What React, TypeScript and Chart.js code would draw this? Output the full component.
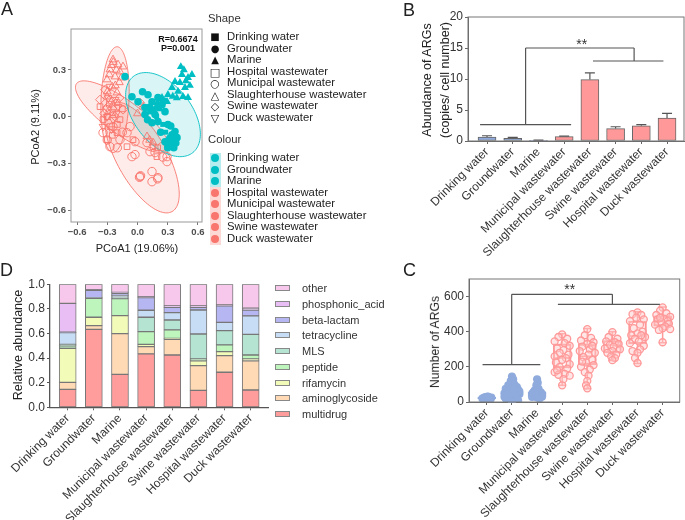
import React, { useEffect, useRef } from "react";
import { Chart, registerables } from "chart.js";

Chart.register(...registerables);

const FONT = "'Liberation Sans', Arial, Helvetica, sans-serif";
const RED = "#F8766D";
const CYAN = "#00BFC4";
const BLUE = "rgb(143,170,220)";
const PINK = "rgb(255,153,153)";

// ---------------- shared categories (B, C, D)
const sites = [
  "Drinking water",
  "Groundwater",
  "Marine",
  "Municipal wastewater",
  "Slaughterhouse wastewater",
  "Swine wastewater",
  "Hospital wastewater",
  "Duck wastewater",
];

// ---------------- Panel A : PCoA
const pcoaTicks = [-0.6, -0.3, 0, 0.3, 0.6];
const pcoaLegend = [
  "Drinking water",
  "Groundwater",
  "Marine",
  "Hospital wastewater",
  "Municipal wastewater",
  "Slaughterhouse wastewater",
  "Swine wastewater",
  "Duck wastewater",
];
const pcoaR = "R=0.6674";
const pcoaP = "P=0.001";

const drinkingPts = [[0.19, 0.0], [0.25, -0.05], [0.28, -0.1], [0.12, 0.03], [0.22, 0.05]];
const groundPts = [
  [-0.124, 0.257], [0.104, 0.141], [-0.055, 0.128], [0.074, 0.058], [0.174, 0.013], [0.203, -0.032],
  [0.302, -0.051], [0.342, -0.116], [0.352, -0.161], [0.302, -0.18], [0.243, 0.077], [0.203, 0.122],
  [0.144, 0.096], [0.273, 0.032], [0.005, 0.096], [0.074, 0.013], [0.144, -0.039], [0.372, -0.096],
  [0.392, -0.135], [0.273, -0.161], [0.32, -0.14], [0.36, -0.2], [0.23, -0.1], [0.12, 0.06],
  [0.05, 0.16], [0.2, 0.06], [0.26, 0.1], [0.33, -0.06], [0.1, -0.02], [0.3, -0.2], [0.38, -0.17],
];
const marinePts = [
  [0.372, 0.225], [0.441, 0.27], [0.501, 0.25], [0.471, 0.186], [0.402, 0.161], [0.501, 0.122],
  [0.342, 0.186], [0.302, 0.141], [0.243, 0.122], [0.293, 0.096], [0.451, 0.128], [0.54, 0.27],
  [0.421, 0.218], [0.46, 0.3], [0.52, 0.2], [0.39, 0.12], [0.48, 0.23], [0.35, 0.13], [0.43, 0.32],
  [0.2, 0.09], [0.16, 0.04],
];
const hospitalPts = [
  [-0.273, -0.064], [-0.203, -0.103], [-0.342, -0.019], [-0.174, -0.019], [-0.243, 0.026], [-0.045, -0.148],
  [-0.104, -0.193], [-0.302, -0.148], [-0.372, 0.064], [-0.203, 0.09], [0.154, -0.193], [0.193, -0.257],
  [-0.25, -0.12], [-0.3, 0.0], [-0.2, -0.05], [-0.15, 0.05], [0.2, -0.2], [-0.28, 0.08],
];
const municipalPts = [
  [-0.055, -0.257], [0.025, -0.385], [0.144, -0.353], [0.144, -0.418], [0.203, -0.392], [0.124, -0.225],
  [0.174, -0.231], [0.293, -0.289], [0.293, -0.257], [0.243, -0.193], [-0.025, -0.161], [0.094, -0.167],
  [-0.025, -0.244], [-0.302, 0.045], [-0.243, -0.064], [-0.342, -0.103], [-0.174, -0.148], [-0.273, -0.193],
  [-0.104, -0.103], [-0.074, -0.064], [0.03, -0.38], [0.02, -0.39], [0.2, -0.4], [0.25, -0.26],
  [-0.2, -0.2], [-0.3, -0.15], [-0.15, -0.1],
];
const slaughterPts = [
  [-0.243, 0.366], [-0.193, 0.334], [-0.273, 0.302], [-0.174, 0.289], [-0.223, 0.257], [-0.302, 0.238],
  [-0.144, 0.321], [-0.253, 0.193], [-0.203, 0.154], [-0.302, 0.128], [0.055, 0.064], [0.094, -0.128],
  [0.154, -0.167], [-0.26, 0.33], [-0.21, 0.3], [-0.28, 0.27], [-0.18, 0.22], [-0.24, 0.35],
  [-0.22, 0.2], [-0.3, 0.16], [-0.16, 0.25], [0.0, 0.02], [0.12, -0.15],
];
const swinePts = [
  [-0.372, 0.109], [-0.273, 0.109], [-0.223, 0], [-0.322, 0.173], [-0.144, 0.045], [0.025, 0.09],
  [-0.25, 0.05], [-0.3, 0.06], [-0.18, 0.12], [-0.33, 0.02],
];
const duckPts = [
  [-0.302, 0], [-0.243, -0.019], [-0.193, 0.064], [-0.342, -0.064], [-0.223, 0.109], [-0.273, 0.193],
  [-0.26, -0.08], [-0.21, 0.02], [-0.29, 0.12],
];

// confidence ellipses: centre and two conjugate semi-axes (data units)
const ellipseCenters = [[-0.223, 0.109], [-0.154, 0.0], [0.045, -0.263], [0.253, 0.013]];
const ellipseAxisA = [[0.02, 0.34], [0.451, -0.212], [0.298, -0.347], [0.307, -0.238]];
const ellipseAxisB = [[0.139, 0], [0.099, 0.089], [0.218, 0.077], [0.208, 0.128]];
const ellipseIsNatural = [false, false, false, true];

// ---------------- Panel B : abundance
const abundance = [0.65, 0.45, 0.1, 0.7, 9.9, 2.0, 2.45, 3.7];
const abundanceErr = [0.2, 0.15, 0.05, 0.1, 1.1, 0.3, 0.2, 0.75];
const abundanceTicks = [0, 5, 10, 15, 20];
const bracketB = [
  [-0.27, 2.65, 3.27, 2.65],
  [1.5, 2.65, 1.5, 15],
  [1.5, 15, 5.72, 15],
  [5.72, 15, 5.72, 12.9],
  [4.12, 12.9, 6.86, 12.9],
];
const starB = [3.68, 15.5];

// ---------------- Panel C : number of ARGs
const argTicks = [0, 200, 400, 600];
const argMin = [12, 0, 20, 95, 76, 236, 219, 337];
const argQ1 = [18, 25, 30, 194, 213, 280, 331, 432];
const argMedian = [22, 48, 45, 251, 261, 324, 375, 461];
const argQ3 = [28, 75, 58, 331, 331, 350, 461, 490];
const argMax = [35, 147, 133, 389, 419, 400, 514, 541];
const drinkingArgs = [[-0.15, 22], [-0.1, 25], [-0.05, 28], [0.05, 24], [0.1, 20], [0.15, 18], [0.18, 26], [-0.12, 15], [0, 20], [0.06, 30], [0.12, 12], [-0.18, 20], [0.03, 32]];
const groundArgs = [[0, 145], [0.05, 130], [-0.05, 120], [0.1, 100], [-0.15, 95], [0.2, 85], [-0.25, 75], [0.25, 70], [-0.1, 65], [0.15, 60], [0, 55], [-0.3, 50], [0.3, 45], [-0.2, 40], [0.1, 35], [-0.05, 30], [0.2, 25], [-0.25, 20], [0.05, 15], [-0.15, 10], [0.25, 8], [0, 5], [0.3, 60], [-0.3, 30], [0.12, 45], [-0.12, 48], [0, 80], [0.05, 70]];
const marineArgs = [[0, 130], [0.03, 110], [-0.03, 95], [0.06, 75], [-0.1, 65], [0.15, 55], [-0.18, 50], [0.2, 45], [-0.1, 40], [0.12, 35], [0.2, 30], [-0.2, 28], [0, 25], [-0.15, 55], [0.05, 45], [0.1, 20], [0, 60], [-0.05, 40]];
const municipalArgs = [[0, 385], [-0.15, 370], [0.2, 360], [-0.3, 345], [0.1, 335], [0.3, 320], [-0.2, 305], [0.05, 295], [-0.1, 280], [0.25, 270], [-0.3, 260], [0.15, 250], [0, 240], [-0.25, 225], [0.3, 215], [-0.1, 200], [0.2, 190], [-0.3, 170], [0.1, 160], [-0.15, 155], [0.3, 150], [0.05, 130], [0, 95], [-0.2, 180]];
const slaughterArgs = [[0, 415], [-0.1, 380], [0.15, 365], [-0.25, 350], [0.25, 340], [0, 330], [-0.2, 315], [0.1, 300], [-0.3, 290], [0.3, 280], [0.05, 270], [-0.15, 255], [0.2, 240], [-0.05, 225], [0.25, 210], [-0.25, 200], [0.1, 185], [-0.1, 170], [0.05, 150], [0, 120], [-0.05, 95], [0, 78], [0.2, 320], [-0.2, 230]];
const swineArgs = [[0, 398], [-0.15, 370], [0.2, 360], [-0.25, 345], [0.1, 340], [0.25, 330], [-0.1, 325], [0.05, 315], [-0.3, 305], [0.3, 300], [0, 290], [-0.2, 280], [0.15, 270], [-0.05, 260], [0.1, 250], [0, 238]];
const hospitalArgs = [[0, 510], [-0.2, 500], [0.15, 495], [-0.05, 480], [0.25, 470], [-0.3, 460], [0.1, 440], [-0.15, 420], [0.2, 400], [0, 390], [-0.25, 380], [0.3, 370], [-0.1, 360], [0.05, 345], [-0.3, 335], [0.25, 320], [0.1, 300], [-0.2, 290], [0, 280], [-0.1, 250], [0, 222], [0.15, 380]];
const duckArgs = [[0, 538], [-0.1, 520], [0.15, 505], [-0.25, 495], [0.3, 485], [0.05, 475], [-0.2, 470], [0.2, 460], [-0.05, 455], [0.25, 445], [-0.3, 440], [0.1, 430], [0, 420], [0.3, 415], [-0.15, 410], [0, 340], [-0.1, 480]];
const argPoints = [drinkingArgs, groundArgs, marineArgs, municipalArgs, slaughterArgs, swineArgs, hospitalArgs, duckArgs];
const bracketC = [
  [-0.17, 213, 2.13, 213],
  [0.99, 213, 0.99, 613],
  [0.99, 613, 5.0, 613],
  [5.0, 613, 5.0, 556],
  [2.83, 556, 6.89, 556],
];
const starC = [3.3, 636];

// ---------------- Panel D : relative abundance by class
const classNames = ["multidrug", "aminoglycoside", "rifamycin", "peptide", "MLS", "tetracycline", "beta-lactam", "phosphonic_acid", "other"];
const multidrug = [0.146, 0.634, 0.268, 0.434, 0.425, 0.138, 0.285, 0.141];
const aminoglycoside = [0.057, 0.03, 0.331, 0.059, 0.128, 0.201, 0.135, 0.236];
const rifamycin = [0.277, 0.068, 0.146, 0.019, 0.008, 0.038, 0.033, 0.016];
const peptide = [0.02, 0.154, 0.138, 0.103, 0.068, 0.016, 0.054, 0.032];
const mls = [0.012, 0.003, 0.014, 0.117, 0.081, 0.203, 0.116, 0.168];
const tetracycline = [0.095, 0.003, 0.013, 0.057, 0.06, 0.195, 0.068, 0.15];
const betaLactam = [0.003, 0.059, 0.017, 0.103, 0.043, 0.022, 0.133, 0.048];
const phosphonic = [0.235, 0.005, 0.008, 0.008, 0.011, 0.011, 0.008, 0.014];
const other = [0.155, 0.044, 0.065, 0.1, 0.176, 0.176, 0.168, 0.195];
const classValues = [multidrug, aminoglycoside, rifamycin, peptide, mls, tetracycline, betaLactam, phosphonic, other];
const relTicks = [0, 0.2, 0.4, 0.6, 0.8, 1.0];

// ---------------- styles
const classColors = ["#FF9C9C", "#FFDAB5", "#F3FBB8", "#BDF5BD", "#B5E5D2", "#C7DCF5", "#B6B6F2", "#E8BEF4", "#F8C8EC"];
const shapeGlyphs = ["■", "●", "▲", "□", "○", "△", "◇", "▽"];

const pcoaSeries = [
  { pts: groundPts, style: "circle", rot: 0, filled: true, color: CYAN, r: 3.8 },
  { pts: marinePts, style: "triangle", rot: 0, filled: true, color: CYAN, r: 4.6 },
  { pts: drinkingPts, style: "rect", rot: 0, filled: true, color: CYAN, r: 3.5 },
  { pts: hospitalPts, style: "rect", rot: 0, filled: false, color: RED, r: 4 },
  { pts: municipalPts, style: "circle", rot: 0, filled: false, color: RED, r: 4.2 },
  { pts: slaughterPts, style: "triangle", rot: 0, filled: false, color: RED, r: 4.5 },
  { pts: swinePts, style: "rectRot", rot: 0, filled: false, color: RED, r: 4.5 },
  { pts: duckPts, style: "triangle", rot: 180, filled: false, color: RED, r: 4.5 },
];

const fmtPcoa = (v: number) => (v < 0 ? "\u2212" : "") + Math.abs(v).toFixed(1);

const fixedWidth = (w: number) => (s: any) => {
  s.width = w;
  s.paddingTop = 0;
  s.paddingBottom = 0;
  s.paddingLeft = 0;
  s.paddingRight = 0;
};
const fixedHeight = (h: number) => (s: any) => {
  s.height = h;
  s.paddingLeft = 0;
  s.paddingRight = 0;
  s.paddingTop = 0;
  s.paddingBottom = 0;
};

const framePlugin = (color: string) => ({
  id: "frame",
  afterDraw(chart: any) {
    const { ctx, chartArea: a } = chart;
    ctx.save();
    ctx.strokeStyle = color;
    ctx.lineWidth = 1;
    ctx.strokeRect(a.left, a.top, a.right - a.left, a.bottom - a.top);
    ctx.restore();
  },
});

const ellipsePlugin = {
  id: "ellipses",
  beforeDatasetsDraw(chart: any) {
    const { ctx, chartArea: a, scales } = chart;
    const xs = scales.x, ys = scales.y;
    ctx.save();
    ctx.beginPath();
    ctx.rect(a.left, a.top, a.right - a.left, a.bottom - a.top);
    ctx.clip();
    ellipseCenters.forEach((c, i) => {
      const A = ellipseAxisA[i], B = ellipseAxisB[i];
      ctx.beginPath();
      for (let k = 0; k <= 120; k++) {
        const t = (k / 120) * Math.PI * 2;
        const dx = c[0] + A[0] * Math.cos(t) + B[0] * Math.sin(t);
        const dy = c[1] + A[1] * Math.cos(t) + B[1] * Math.sin(t);
        const px = xs.getPixelForValue(dx), py = ys.getPixelForValue(dy);
        if (k === 0) ctx.moveTo(px, py); else ctx.lineTo(px, py);
      }
      ctx.closePath();
      ctx.fillStyle = ellipseIsNatural[i] ? "rgba(0,191,196,0.15)" : "rgba(248,118,109,0.14)";
      ctx.strokeStyle = ellipseIsNatural[i] ? CYAN : RED;
      ctx.lineWidth = 0.9;
      ctx.fill();
      ctx.stroke();
    });
    ctx.restore();
  },
};

const bracketPlugin = (segs: number[][], star: number[]) => ({
  id: "bracket",
  afterDatasetsDraw(chart: any) {
    const { ctx, scales } = chart;
    const xs = scales.x, ys = scales.y;
    ctx.save();
    ctx.strokeStyle = "#555";
    ctx.lineWidth = 1.2;
    segs.forEach((s) => {
      ctx.beginPath();
      ctx.moveTo(xs.getPixelForValue(s[0]), ys.getPixelForValue(s[1]));
      ctx.lineTo(xs.getPixelForValue(s[2]), ys.getPixelForValue(s[3]));
      ctx.stroke();
    });
    ctx.fillStyle = "#333";
    ctx.font = `14px ${FONT}`;
    ctx.textAlign = "center";
    ctx.textBaseline = "middle";
    ctx.fillText("**", xs.getPixelForValue(star[0]), ys.getPixelForValue(star[1]));
    ctx.restore();
  },
});

const errorPlugin = {
  id: "errors",
  afterDatasetsDraw(chart: any) {
    const { ctx, scales } = chart;
    const xs = scales.x, ys = scales.y;
    ctx.save();
    ctx.strokeStyle = "#555";
    ctx.lineWidth = 1.2;
    abundance.forEach((v, i) => {
      const px = xs.getPixelForValue(i);
      const y0 = ys.getPixelForValue(v), y1 = ys.getPixelForValue(v + abundanceErr[i]);
      ctx.beginPath();
      ctx.moveTo(px, y0);
      ctx.lineTo(px, y1);
      ctx.moveTo(px - 5, y1);
      ctx.lineTo(px + 5, y1);
      ctx.stroke();
    });
    ctx.restore();
  },
};

const whiskerPlugin = {
  id: "whiskers",
  beforeDatasetsDraw(chart: any) {
    const { ctx, scales } = chart;
    const xs = scales.x, ys = scales.y;
    ctx.save();
    ctx.lineWidth = 1.5;
    sites.forEach((_, i) => {
      ctx.strokeStyle = i < 3 ? BLUE : PINK;
      const px = xs.getPixelForValue(i);
      const yMin = ys.getPixelForValue(argMin[i]);
      const yQ1 = ys.getPixelForValue(argQ1[i]);
      const yMed = ys.getPixelForValue(argMedian[i]);
      const yQ3 = ys.getPixelForValue(argQ3[i]);
      const yMax = ys.getPixelForValue(argMax[i]);
      ctx.beginPath();
      ctx.moveTo(px, yMin); ctx.lineTo(px, yQ1);
      ctx.moveTo(px, yQ3); ctx.lineTo(px, yMax);
      ctx.moveTo(px - 4, yMin); ctx.lineTo(px + 4, yMin);
      ctx.moveTo(px - 4, yMax); ctx.lineTo(px + 4, yMax);
      ctx.moveTo(px - 9, yMed); ctx.lineTo(px + 9, yMed);
      ctx.stroke();
    });
    ctx.restore();
  },
};

const siteXAxis = (min: number, max: number, h: number) => ({
  type: "linear",
  min,
  max,
  offset: false,
  afterBuildTicks: (s: any) => {
    s.ticks = sites.map((_, i) => ({ value: i }));
  },
  ticks: {
    autoSkip: false,
    maxRotation: 45,
    minRotation: 45,
    callback: (v: any) => sites[Math.round(v)],
    font: { family: FONT, size: 12 },
    color: "#333",
    padding: 1,
  },
  grid: { drawOnChartArea: false, offset: false, tickLength: 3, color: "#666" },
  border: { display: true, color: "#666", width: 1 },
  afterFit: fixedHeight(h),
});

function makeA(canvas: HTMLCanvasElement) {
  return new Chart(canvas, {
    type: "scatter",
    data: {
      datasets: pcoaSeries.map((s) => ({
        data: s.pts.map(([x, y]) => ({ x, y })),
        pointStyle: s.style,
        rotation: s.rot,
        pointRadius: s.r,
        backgroundColor: s.filled ? s.color : "rgba(0,0,0,0)",
        borderColor: s.color,
        borderWidth: s.filled ? 0 : 0.9,
      })),
    } as any,
    options: {
      responsive: false,
      animation: false,
      events: [],
      layout: { padding: { left: 0, top: 29, right: 8, bottom: 0 } },
      plugins: { legend: { display: false }, tooltip: { enabled: false } },
      scales: {
        x: {
          type: "linear",
          min: -0.66,
          max: 0.64,
          afterBuildTicks: (s: any) => {
            s.ticks = pcoaTicks.map((v) => ({ value: v }));
          },
          ticks: { callback: (v: any) => fmtPcoa(v), font: { family: FONT, size: 9.5, weight: "bold" }, color: "#4d4d4d", padding: 2 },
          grid: { drawOnChartArea: false, tickLength: 3, color: "#777" },
          border: { display: false },
          afterFit: fixedHeight(38),
        },
        y: {
          type: "linear",
          min: -0.677,
          max: 0.563,
          afterBuildTicks: (s: any) => {
            s.ticks = pcoaTicks.slice(0, 4).map((v) => ({ value: v }));
          },
          ticks: { callback: (v: any) => fmtPcoa(v), font: { family: FONT, size: 9.5, weight: "bold" }, color: "#4d4d4d", padding: 2 },
          grid: { drawOnChartArea: false, tickLength: 3, color: "#777" },
          border: { display: false },
          afterFit: fixedWidth(71),
        },
      },
    } as any,
    plugins: [ellipsePlugin, framePlugin("#999")],
  });
}

function makeB(canvas: HTMLCanvasElement) {
  return new Chart(canvas, {
    type: "bar",
    data: {
      datasets: [
        {
          data: abundance.map((v, i) => ({ x: i, y: v })),
          backgroundColor: abundance.map((_, i) => (i < 3 ? BLUE : PINK)),
          borderColor: "#666",
          borderWidth: 1,
          borderSkipped: false,
          barThickness: 18,
        },
      ],
    } as any,
    options: {
      responsive: false,
      animation: false,
      events: [],
      layout: { padding: { left: 0, top: 17, right: 1, bottom: 0 } },
      plugins: { legend: { display: false }, tooltip: { enabled: false } },
      scales: {
        x: siteXAxis(-0.74, 7.66, 121),
        y: {
          type: "linear",
          min: 0,
          max: 20,
          afterBuildTicks: (s: any) => {
            s.ticks = abundanceTicks.map((v) => ({ value: v }));
          },
          ticks: { font: { family: FONT, size: 12 }, color: "#333", padding: 2 },
          grid: { drawOnChartArea: false, tickLength: 3, color: "#666" },
          border: { display: true, color: "#666" },
          afterFit: fixedWidth(88),
        },
      },
    } as any,
    plugins: [errorPlugin, bracketPlugin(bracketB, starB), framePlugin("#777")],
  });
}

function makeC(canvas: HTMLCanvasElement) {
  const pointSets = argPoints.map((pts, i) => ({
    type: "scatter",
    order: 0,
    data: pts.map(([dx, v]) => ({ x: i + dx, y: v })),
    pointRadius: i < 3 ? 4 : 3.5,
    backgroundColor: i < 3 ? BLUE : "rgba(255,200,200,0.45)",
    borderColor: i < 3 ? BLUE : PINK,
    borderWidth: i < 3 ? 0 : 1.3,
    showLine: false,
  }));
  return new Chart(canvas, {
    type: "bar",
    data: {
      datasets: [
        ...pointSets,
        {
          type: "bar",
          order: 1,
          data: argQ1.map((q, i) => ({ x: i, y: [q, argQ3[i]] })),
          backgroundColor: "rgba(255,255,255,0)",
          borderColor: sites.map((_, i) => (i < 3 ? BLUE : PINK)),
          borderWidth: 1.5,
          borderSkipped: false,
          barThickness: 18,
        },
      ],
    } as any,
    options: {
      responsive: false,
      animation: false,
      events: [],
      layout: { padding: { left: 0, top: 24, right: 1, bottom: 0 } },
      plugins: { legend: { display: false }, tooltip: { enabled: false } },
      scales: {
        x: siteXAxis(-0.71, 7.68, 118),
        y: {
          type: "linear",
          min: 0,
          max: 700,
          afterBuildTicks: (s: any) => {
            s.ticks = argTicks.map((v) => ({ value: v }));
          },
          ticks: { font: { family: FONT, size: 12 }, color: "#333", padding: 2 },
          grid: { drawOnChartArea: false, tickLength: 3, color: "#666" },
          border: { display: true, color: "#666" },
          afterFit: fixedWidth(89),
        },
      },
    } as any,
    plugins: [whiskerPlugin, bracketPlugin(bracketC, starC), framePlugin("#777")],
  });
}

function makeD(canvas: HTMLCanvasElement) {
  return new Chart(canvas, {
    type: "bar",
    data: {
      datasets: classValues.map((vals, k) => ({
        label: classNames[k],
        data: vals.map((v, i) => ({ x: i, y: v })),
        backgroundColor: classColors[k],
        borderColor: "#777",
        borderWidth: 1,
        borderSkipped: false,
        barThickness: 17,
      })),
    } as any,
    options: {
      responsive: false,
      animation: false,
      events: [],
      layout: { padding: { left: 0, top: 29.3, right: 112, bottom: 0 } },
      plugins: { legend: { display: false }, tooltip: { enabled: false } },
      scales: {
        x: { ...siteXAxis(-0.677, 7.662, 112.7), stacked: true, border: { display: true, color: "#555", width: 1.3 } },
        y: {
          type: "linear",
          stacked: true,
          min: 0,
          max: 1,
          afterBuildTicks: (s: any) => {
            s.ticks = relTicks.map((v) => ({ value: v }));
          },
          ticks: { callback: (v: any) => Number(v).toFixed(1), font: { family: FONT, size: 12 }, color: "#333", padding: 2 },
          grid: { drawOnChartArea: false, tickLength: 3, color: "#555" },
          border: { display: true, color: "#555", width: 1.3 },
          afterFit: fixedWidth(50),
        },
      },
    } as any,
  });
}

type TxtProps = {
  x: number;
  y: number;
  text: string;
  size?: number;
  weight?: any;
  color?: string;
  rot?: number;
  anchor?: "start" | "middle" | "end";
  family?: string;
};

function Txt({ x, y, text, size = 12, weight = "normal", color = "#222", rot = 0, anchor = "start", family = FONT }: TxtProps) {
  const tx = anchor === "start" ? "0" : anchor === "middle" ? "-50%" : "-100%";
  return (
    <div
      style={{
        position: "absolute",
        left: x,
        top: y,
        fontFamily: family,
        fontSize: size,
        fontWeight: weight,
        color,
        whiteSpace: "nowrap",
        lineHeight: 1,
        transform: `translate(${tx},-50%) rotate(${rot}deg)`,
      }}
    >
      {text}
    </div>
  );
}

export default function App() {
  const aRef = useRef<HTMLCanvasElement>(null);
  const bRef = useRef<HTMLCanvasElement>(null);
  const cRef = useRef<HTMLCanvasElement>(null);
  const dRef = useRef<HTMLCanvasElement>(null);

  useEffect(() => {
    const charts = [makeA(aRef.current!), makeB(bRef.current!), makeC(cRef.current!), makeD(dRef.current!)];
    return () => charts.forEach((c) => c.destroy());
  }, []);

  const cv = (left: number, top: number, w: number, h: number) => ({
    position: "absolute" as const,
    left,
    top,
    width: w,
    height: h,
  });

  return (
    <div style={{ position: "absolute", left: 0, top: 0, width: 685, height: 520, background: "#fff", overflow: "hidden", fontFamily: FONT }}>
      <canvas ref={aRef} width={210} height={260} style={cv(0, 0, 210, 260)} />
      <canvas ref={dRef} width={380} height={265} style={cv(0, 255, 380, 265)} />
      <canvas ref={bRef} width={305} height={262} style={cv(380, 0, 305, 262)} />
      <canvas ref={cRef} width={305} height={265} style={cv(380, 255, 305, 265)} />

      {/* panel letters */}
      <Txt x={1} y={9} text="A" size={18} />
      <Txt x={403} y={10} text="B" size={18} />
      <Txt x={403} y={270} text="C" size={18} />
      <Txt x={0} y={270} text="D" size={18} />

      {/* panel A texts */}
      <Txt x={35} y={127} text="PCoA2 (9.11%)" size={11} rot={-90} anchor="middle" />
      <Txt x={137} y={248} text="PCoA1 (19.06%)" size={11} anchor="middle" />
      <Txt x={178} y={39} text={pcoaR} size={9} weight="bold" anchor="middle" color="#111" />
      <Txt x={178} y={47.5} text={pcoaP} size={9} weight="bold" anchor="middle" color="#111" />

      {/* panel A legend */}
      <Txt x={208} y={19} text="Shape" size={11.3} color="#333" />
      {pcoaLegend.map((name, i) => (
        <React.Fragment key={"s" + i}>
          <Txt x={215} y={37 + 11.5 * i} text={shapeGlyphs[i]} size={i < 3 ? 10 : 11} anchor="middle" family="'DejaVu Sans', sans-serif" color="#111" />
          <Txt x={227} y={37 + 11.5 * i} text={name} size={11.3} />
        </React.Fragment>
      ))}
      <Txt x={208} y={140} text="Colour" size={11.3} color="#333" />
      {pcoaLegend.map((name, i) => (
        <React.Fragment key={"c" + i}>
          <div
            style={{
              position: "absolute",
              left: 209.5,
              top: 152.5 + 11.5 * i,
              width: 11,
              height: 11.5,
              background: i < 3 ? "rgba(0,191,196,0.28)" : "rgba(248,118,109,0.28)",
            }}
          >
            <div
              style={{
                position: "absolute",
                left: 1.5,
                top: 1.75,
                width: 8,
                height: 8,
                borderRadius: "50%",
                background: i < 3 ? CYAN : RED,
              }}
            />
          </div>
          <Txt x={227} y={158.3 + 11.5 * i} text={name} size={11.3} />
        </React.Fragment>
      ))}

      {/* panel B / C / D axis titles */}
      <Txt x={427} y={80} text="Abundance of ARGs" size={12.5} rot={-90} anchor="middle" />
      <Txt x={445} y={80} text="(copies/ cell number)" size={12.5} rot={-90} anchor="middle" />
      <Txt x={435} y={342} text="Number of ARGs" size={12.2} rot={-90} anchor="middle" />
      <Txt x={18} y={345} text="Relative abundance" size={12.5} rot={-90} anchor="middle" />

      {/* panel D legend */}
      {classNames
        .slice()
        .reverse()
        .map((name, j) => {
          const k = classNames.length - 1 - j;
          const y = 288 + 15.75 * j;
          return (
            <React.Fragment key={"d" + j}>
              <div
                style={{
                  position: "absolute",
                  left: 275,
                  top: y - 3,
                  width: 15,
                  height: 6,
                  boxSizing: "border-box",
                  border: "1px solid #888",
                  background: classColors[k],
                }}
              />
              <Txt x={302} y={y} text={name} size={11} color="#333" />
            </React.Fragment>
          );
        })}
    </div>
  );
}
